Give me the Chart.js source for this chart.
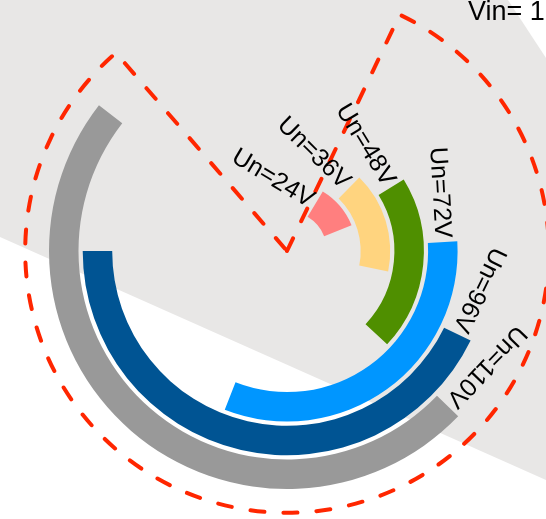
<!DOCTYPE html>
<html>
<head>
<meta charset="utf-8">
<title>Un rings</title>
<script src="https://cdn.jsdelivr.net/npm/chart.js@4.4.0/dist/chart.umd.min.js"></script>
<style>
  body { margin: 0; background: #ffffff; }
  #wrap { width: 546px; height: 519px; position: relative; }
</style>
</head>
<body>
<div id="wrap"><canvas id="my-chart"></canvas></div>
<script>
'use strict';

// voltage windows, degrees clockwise from 12 o'clock
let ringNames = ['Un=24V', 'Un=36V', 'Un=48V', 'Un=72V', 'Un=96V', 'Un=110V'];
let ringFrom = [31, 44.5, 58.5, 86.7, 116, 134];
let ringTo = [68.3, 101.4, 133, 201.4, 270, 307.8];
let ringColors = ['#ff7f7f', '#ffd47f', '#4f8f00', '#0096ff', '#005493', '#999999'];
let vinRange = [25.5, 319.2];
let vinText = 'Vin= 1';

let canvasElem = document.getElementById('my-chart');

let fontName = '"Liberation Sans", Arial, Helvetica, sans-serif';

let backdrop = {
  id: 'backdrop',
  beforeDraw(chart) {
    let ctx = chart.ctx;
    ctx.save();
    ctx.fillStyle = '#ffffff';
    ctx.fillRect(0, 0, chart.width, chart.height);
    ctx.fillStyle = '#e8e7e6';
    ctx.beginPath();
    ctx.moveTo(0, 0);
    ctx.lineTo(508, 0);
    ctx.lineTo(546, 58);
    ctx.lineTo(546, 480);
    ctx.lineTo(0, 237);
    ctx.closePath();
    ctx.fill();
    ctx.restore();
  }
};

let extras = {
  id: 'extras',
  afterDatasetsDraw(chart) {
    let ctx = chart.ctx;
    let outer = chart.getDatasetMeta(0).data[1];

    // dashed Vin sector
    let toRad = (d) => (d - 90) * Math.PI / 180;
    let r = outer.outerRadius * 1.1;
    ctx.save();
    ctx.strokeStyle = '#ff2600';
    ctx.lineWidth = 4;
    ctx.lineCap = 'round';
    ctx.setLineDash([14, 19]);
    ctx.beginPath();
    ctx.moveTo(outer.x, outer.y);
    ctx.arc(outer.x, outer.y, r, toRad(vinRange[0]), toRad(vinRange[1]));
    ctx.closePath();
    ctx.stroke();
    ctx.restore();

    // ring labels, written along the ring just before each start
    ctx.save();
    ctx.fillStyle = '#000000';
    ctx.font = '25px ' + fontName;
    ctx.textAlign = 'right';
    ctx.textBaseline = 'middle';
    for (let i = 0; i < ringNames.length; i++) {
      let meta = chart.getDatasetMeta((ringNames.length - 1 - i) * 2);
      let arc = meta.data[1];
      let mid = (arc.innerRadius + arc.outerRadius) / 2;
      let a = arc.startAngle;
      ctx.save();
      ctx.translate(arc.x + mid * Math.cos(a), arc.y + mid * Math.sin(a));
      ctx.rotate(a + Math.PI / 2);
      ctx.fillText(ringNames[i], -4, 0);
      ctx.restore();
    }
    ctx.font = '27px ' + fontName;
    ctx.textAlign = 'left';
    ctx.textBaseline = 'alphabetic';
    ctx.fillText(vinText, 468, 20);
    ctx.restore();
  }
};

function renderChart() {

  let datasets = [];

  // outermost ring first
  for (let i = ringNames.length - 1; i >= 0; i--) {
    datasets.push({
      label: ringNames[i],
      data: [ringFrom[i], ringTo[i] - ringFrom[i], 360 - ringTo[i]],
      backgroundColor: ['rgba(0,0,0,0)', ringColors[i], 'rgba(0,0,0,0)'],
      borderWidth: 0,
      weight: 7
    });
    if (i > 0) {
      datasets.push({
        label: 'gap',
        data: [360],
        backgroundColor: ['rgba(0,0,0,0)'],
        borderWidth: 0,
        weight: 1
      });
    }
  }

  let chartObj = {
    type: 'doughnut',
    data: {
      labels: ['before', 'window', 'after'],
      datasets: datasets
    },
    options: {
      responsive: true,
      maintainAspectRatio: false,
      animation: false,
      cutout: '16.8%',
      layout: {
        padding: { left: 49, right: 21, top: 13, bottom: 30 }
      },
      plugins: {
        legend: { display: false },
        tooltip: { enabled: false }
      },
      events: []
    },
    plugins: [backdrop, extras]
  };

  new Chart(canvasElem, chartObj); //eslint-disable-line
}

renderChart();
</script>
</body>
</html>
